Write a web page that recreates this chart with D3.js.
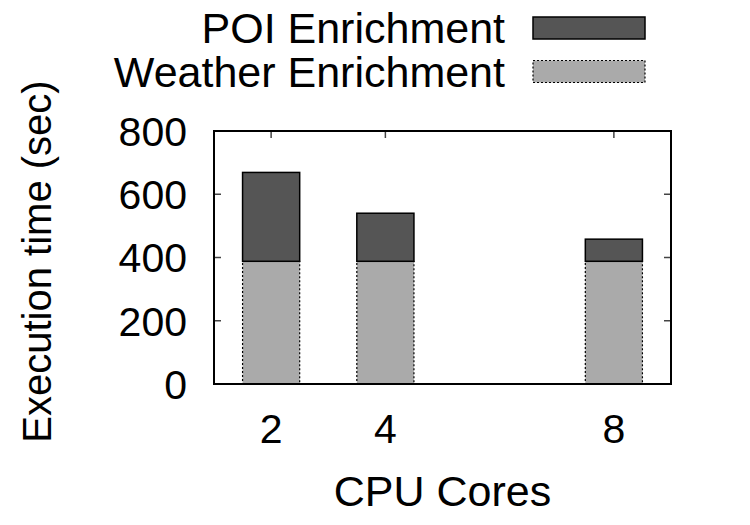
<!DOCTYPE html>
<html>
<head>
<meta charset="utf-8">
<script src="https://cdn.jsdelivr.net/npm/d3@7"></script>
<style>
  body { margin: 0; background: #fff; }
  text { font-family: "Liberation Sans", Arial, sans-serif; fill: #000; }
</style>
</head>
<body>
<svg id="chart" width="750" height="525"></svg>
<script>
  // values
  var cores = [2, 4, 8];
  var weatherTime = [388, 388, 388];
  var poiTime = [281, 152, 70];
  var yTickValues = [0, 200, 400, 600, 800];
  var xTickValues = [2, 4, 8];
  var seriesNames = ['POI Enrichment', 'Weather Enrichment'];

  var svg = d3.select('#chart'),
      margin = {top: 131, right: 79, bottom: 141, left: 214},
      width = +svg.attr('width') - margin.left - margin.right,
      height = +svg.attr('height') - margin.top - margin.bottom,
      g = svg.append('g').attr('transform', 'translate(' + margin.left + ',' + margin.top + ')');

  var rows = cores.map(function (c, i) {
    return {cores: c, weather: weatherTime[i], poi: poiTime[i]};
  });

  var stacked = d3.stack().keys(['weather', 'poi'])(rows);

  var xScale = d3.scaleLinear().domain([1, 9]).range([0, width]);
  var yScale = d3.scaleLinear().domain([0, 800]).range([height, 0]);
  var barHalf = 0.5; // bars are one x unit wide

  var styles = {
    poi: {fill: '#555555', dash: null, stroke: '#000', sw: 1.5},
    weather: {fill: '#aaaaaa', dash: '2,2', stroke: '#000', sw: 1.2}
  };

  // bars
  stacked.forEach(function (layer) {
    var st = styles[layer.key];
    g.append('g')
        .attr('class', 'bars ' + layer.key)
        .selectAll('rect')
        .data(layer)
        .enter()
        .append('rect')
        .attr('x', function (d) { return xScale(d.data.cores - barHalf); })
        .attr('width', function (d) { return xScale(d.data.cores + barHalf) - xScale(d.data.cores - barHalf); })
        .attr('y', function (d) { return yScale(d[1]); })
        .attr('height', function (d) { return yScale(d[0]) - yScale(d[1]); })
        .attr('fill', st.fill)
        .attr('stroke', st.stroke)
        .attr('stroke-width', st.sw)
        .attr('stroke-dasharray', st.dash);
  });

  // inner ticks, mirrored on all sides (gnuplot style)
  var tickLen = 7;
  var ticks = g.append('g').attr('class', 'ticks').attr('stroke', '#444').attr('stroke-width', 1.5);
  ticks.selectAll('.yl').data(yTickValues).enter().append('line')
      .attr('x1', 0).attr('x2', tickLen)
      .attr('y1', function (d) { return yScale(d); }).attr('y2', function (d) { return yScale(d); });
  ticks.selectAll('.yr').data(yTickValues).enter().append('line')
      .attr('x1', width - tickLen).attr('x2', width)
      .attr('y1', function (d) { return yScale(d); }).attr('y2', function (d) { return yScale(d); });
  ticks.selectAll('.xt').data(xTickValues).enter().append('line')
      .attr('x1', function (d) { return xScale(d); }).attr('x2', function (d) { return xScale(d); })
      .attr('y1', 0).attr('y2', tickLen);

  // frame
  g.append('rect')
      .attr('width', width)
      .attr('height', height)
      .attr('fill', 'none')
      .attr('stroke', '#000')
      .attr('stroke-width', 2);

  // y tick labels
  g.append('g').selectAll('text')
      .data(yTickValues)
      .enter()
      .append('text')
      .attr('x', -27)
      .attr('y', function (d) { return yScale(d); })
      .attr('dy', '0.36em')
      .attr('text-anchor', 'end')
      .style('font-size', '41px')
      .text(function (d) { return d; });

  // x tick labels
  g.append('g').selectAll('text')
      .data(xTickValues)
      .enter()
      .append('text')
      .attr('x', function (d) { return xScale(d); })
      .attr('y', height + 59)
      .attr('text-anchor', 'middle')
      .style('font-size', '41px')
      .text(function (d) { return d; });

  // axis titles
  g.append('text')
      .attr('x', width / 2)
      .attr('y', height + 122)
      .attr('text-anchor', 'middle')
      .style('font-size', '43px')
      .text('CPU Cores');

  g.append('text')
      .attr('transform', 'rotate(-90)')
      .attr('x', -(height / 2) - 4)
      .attr('y', 51 - margin.left)
      .attr('text-anchor', 'middle')
      .style('font-size', '40px')
      .text('Execution time (sec)');

  // legend
  var legendKeys = ['poi', 'weather'];
  var legend = svg.append('g').attr('class', 'legend');
  legendKeys.forEach(function (k, i) {
    var st = styles[k];
    var yb = 43 + i * 43.5;
    legend.append('text')
        .attr('x', 505)
        .attr('y', yb)
        .attr('text-anchor', 'end')
        .style('font-size', '43px')
        .text(seriesNames[i]);
    legend.append('rect')
        .attr('x', 533)
        .attr('y', yb - 26)
        .attr('width', 112)
        .attr('height', 22)
        .attr('fill', st.fill)
        .attr('stroke', st.stroke)
        .attr('stroke-width', st.sw)
        .attr('stroke-dasharray', st.dash);
  });
</script>
</body>
</html>
